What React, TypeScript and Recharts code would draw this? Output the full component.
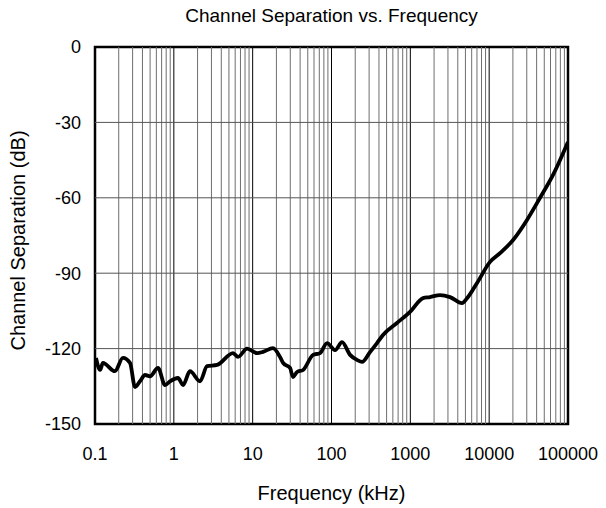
import React from 'react';
import {
  LineChart,
  Line,
  XAxis,
  YAxis,
  ReferenceLine,
  ReferenceArea,
} from 'recharts';

// frequency in kHz, separation in dB
const FREQ = [
  0.103, 0.116, 0.126, 0.179, 0.226, 0.278, 0.322, 0.372, 0.431, 0.499, 0.63,
  0.773, 0.894, 1.13, 1.31, 1.6, 2.15, 2.64, 3.53, 5.64, 6.52, 8.49, 11.4,
  13.5, 18.1, 22.2, 24.3, 29.8, 32.5, 36.6, 43.6, 58.4, 71.5, 87.8, 111, 136,
  172, 211, 244, 308, 378, 450, 677, 991, 1449, 1778, 2379, 3187, 4527, 5236,
  7015, 10260, 13740, 20100, 30200, 44200, 64600, 100000,
];
const SEPARATION = [
  -123.7, -128.5, -125.7, -129, -123.7, -125.7, -135.3, -133, -130.5, -131,
  -127.7, -134.5, -133, -131.7, -134.5, -129, -133, -127, -126.5, -121.8,
  -123.3, -120, -121.8, -121.3, -119.8, -123.3, -125.7, -127.7, -131.3,
  -129.3, -128.5, -122.5, -121.8, -117.8, -120.6, -117.4, -122.5, -124.5,
  -125.3, -121.4, -117.8, -114.6, -109.8, -105.4, -99.9, -99.5, -98.7, -99.5,
  -101.9, -100, -93.9, -85.5, -82, -76.8, -68.8, -60, -50.9, -37.8,
];

const X_TICKS = [0.1, 1, 10, 100, 1000, 10000, 100000];
const Y_TICKS = [-150, -120, -90, -60, -30, 0];

const data = FREQ.map((f, i) => ({ f, db: SEPARATION[i] }));

// 2..9 per decade
const minorLines: number[] = [];
X_TICKS.slice(0, -1).forEach((d) => {
  for (let m = 2; m <= 9; m++) minorLines.push(+(d * m).toPrecision(3));
});

const fmtX = (v: number) => (v < 1 ? String(v) : String(Math.round(v)));

const YLabel = (props: any) => {
  const vb = props.viewBox || {};
  const cx = 18;
  const cy = (vb.y ?? 47) + (vb.height ?? 377) / 2 + 5;
  return (
    <text
      x={cx}
      y={cy}
      transform={`rotate(-90, ${cx}, ${cy})`}
      textAnchor="middle"
      dominantBaseline="central"
      fill="#000"
      fontSize={20}
    >
      Channel Separation (dB)
    </text>
  );
};

export default function App() {
  return (
    <div
      style={{
        position: 'absolute',
        left: 0,
        top: 0,
        width: 606,
        height: 508,
        background: '#fff',
        fontFamily: '"Liberation Sans", Arial, sans-serif',
      }}
    >
      <div
        style={{
          position: 'absolute',
          left: 95,
          width: 473,
          top: 5,
          textAlign: 'center',
          fontSize: 19,
          lineHeight: '22px',
          color: '#000',
        }}
      >
        Channel Separation vs. Frequency
      </div>
      <LineChart
        width={606}
        height={508}
        data={data}
        margin={{ top: 47, right: 38, bottom: 8, left: 10 }}
      >
        <XAxis
          dataKey="f"
          type="number"
          scale="log"
          domain={[0.1, 100000]}
          ticks={X_TICKS}
          tickFormatter={fmtX}
          allowDataOverflow
          axisLine={false}
          tickLine={false}
          tickSize={0}
          tickMargin={23}
          height={76}
          tick={{ fill: '#000', fontSize: 18 }}
          label={{
            value: 'Frequency (kHz)',
            position: 'insideBottom',
            offset: 0,
            fill: '#000',
            fontSize: 20,
          }}
        />
        <YAxis
          type="number"
          domain={[-150, 0]}
          ticks={Y_TICKS}
          axisLine={false}
          tickLine={false}
          tickSize={0}
          tickMargin={14}
          width={85}
          tick={{ fill: '#000', fontSize: 18 }}
          label={<YLabel />}
        />
        {minorLines.map((v) => (
          <ReferenceLine key={'m' + v} x={v} stroke="#6e6e6e" strokeWidth={1} />
        ))}
        {X_TICKS.map((v) => (
          <ReferenceLine key={'d' + v} x={v} stroke="#000" strokeWidth={1} />
        ))}
        {Y_TICKS.slice(1, -1).map((v) => (
          <ReferenceLine key={'h' + v} y={v} stroke="#555" strokeWidth={1} />
        ))}
        <Line
          type="monotone"
          dataKey="db"
          stroke="#000"
          strokeWidth={3.8}
          dot={false}
          isAnimationActive={false}
        />
        <ReferenceArea
          x1={0.1}
          x2={100000}
          y1={-150}
          y2={0}
          fill="none"
          stroke="#000"
          strokeWidth={2.5}
        />
      </LineChart>
    </div>
  );
}
